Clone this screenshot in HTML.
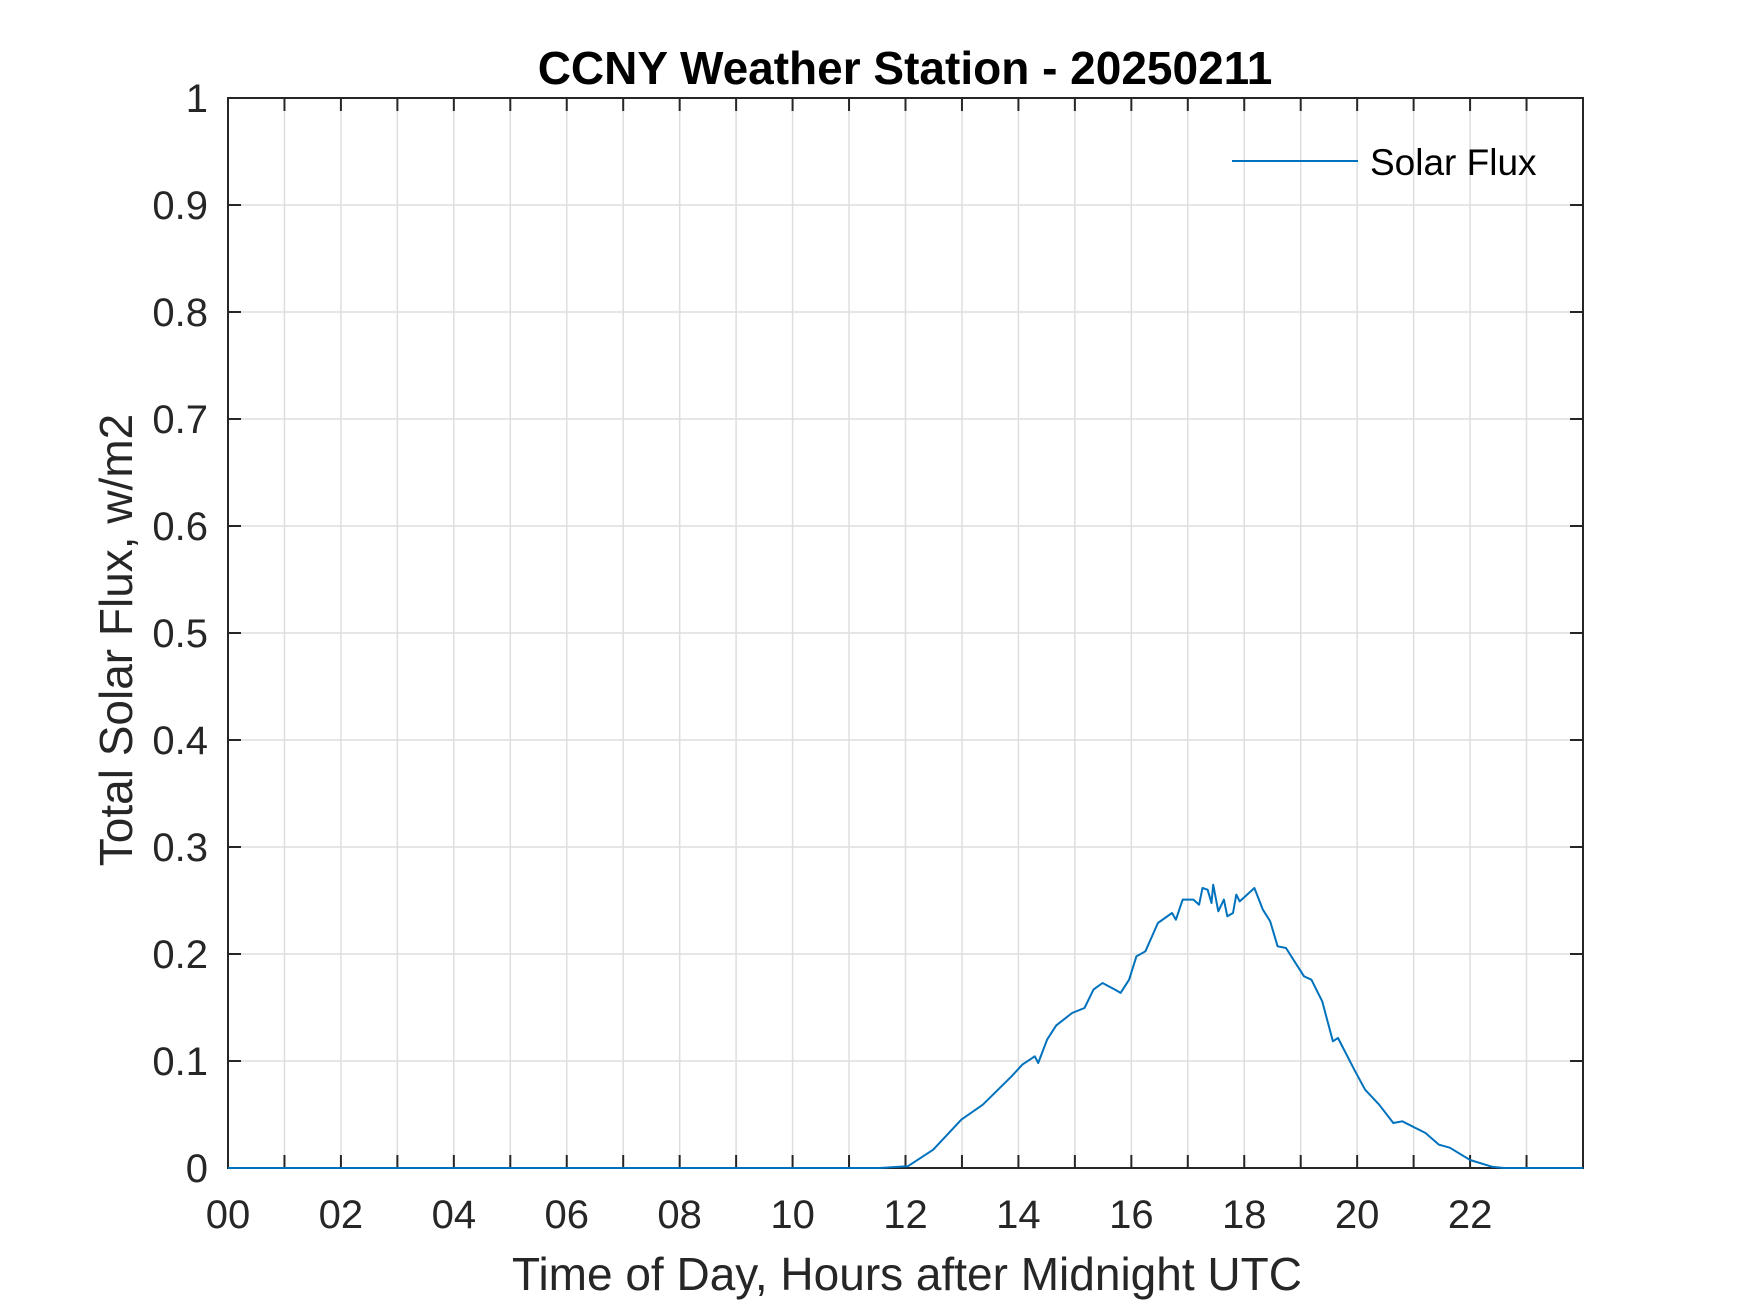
<!DOCTYPE html>
<html><head><meta charset="utf-8"><style>
html,body{margin:0;padding:0;background:#fff;}
svg{display:block;font-family:"Liberation Sans",Arial,sans-serif;}
</style></head><body>
<svg id="chart" width="1750" height="1313" viewBox="0 0 1750 1313" xmlns="http://www.w3.org/2000/svg">
<rect width="1750" height="1313" fill="#fff"/>
<text x="905" y="84" text-anchor="middle" font-size="46" font-weight="bold" fill="#000">CCNY Weather Station - 20250211</text>
<g id="grid"></g><g id="ticks"></g><g id="labels"></g><g id="series"></g>
<text x="907" y="1290" text-anchor="middle" font-size="46" fill="#262626">Time of Day, Hours after Midnight UTC</text>
<text transform="translate(132,640) rotate(-90)" text-anchor="middle" font-size="46" fill="#262626">Total Solar Flux, w/m2</text>
<g>
<line x1="1232" y1="161" x2="1358" y2="161" stroke="#0072BD" stroke-width="2"/>
<text x="1370" y="175" font-size="37" fill="#000">Solar Flux</text>
</g>
</svg>
<script>
const hours = [0,11.54,12.04,12.49,12.99,13.37,13.88,14.07,14.29,14.35,14.51,14.67,14.95,15.17,15.33,15.49,15.71,15.81,15.96,16.09,16.25,16.47,16.72,16.79,16.91,17.10,17.20,17.26,17.35,17.42,17.45,17.54,17.64,17.70,17.80,17.86,17.92,18.18,18.33,18.46,18.59,18.74,18.87,19.06,19.19,19.38,19.57,19.66,19.95,20.14,20.39,20.64,20.80,21.21,21.45,21.64,22.0,22.4,22.6,24];
const flux = [0,0,0.0016,0.0171,0.0452,0.0592,0.0857,0.0966,0.1044,0.0981,0.1202,0.1333,0.1449,0.1495,0.1667,0.1729,0.1667,0.1636,0.1760,0.1978,0.2025,0.2290,0.2383,0.2321,0.2508,0.2508,0.2461,0.2617,0.2601,0.2477,0.2648,0.2399,0.2508,0.2352,0.2383,0.2555,0.2492,0.2617,0.2414,0.2305,0.2072,0.2056,0.1947,0.1791,0.1760,0.1558,0.1184,0.1215,0.0919,0.0732,0.0592,0.0421,0.0436,0.0327,0.0218,0.019,0.0075,0.001,0,0];
const xTickLabels = ["00","02","04","06","08","10","12","14","16","18","20","22"];
const yTickLabels = ["0","0.1","0.2","0.3","0.4","0.5","0.6","0.7","0.8","0.9","1"];

const L=228,R=1583,T=98,B=1168;
const xs=h=>L+(h/24)*(R-L);
const ys=v=>B-(v/1)*(B-T);
const NS="http://www.w3.org/2000/svg";
function mk(tag,attrs,parent){const e=document.createElementNS(NS,tag);for(const k in attrs)e.setAttribute(k,attrs[k]);parent.appendChild(e);return e;}
const grid=document.getElementById('grid'),ticks=document.getElementById('ticks'),labels=document.getElementById('labels'),series=document.getElementById('series');
for(let h=1;h<24;h++){
  const g=mk('line',{x1:xs(h),x2:xs(h),y1:T,y2:B,stroke:'#dedede','stroke-width':1.5},grid);
  
  
  const t1=mk('line',{x1:xs(h),x2:xs(h),y1:B,y2:B-13,stroke:'#262626','stroke-width':2},ticks);
  
  
  const t2=mk('line',{x1:xs(h),x2:xs(h),y1:T,y2:T+13,stroke:'#262626','stroke-width':2},ticks);
  
  
}
yTickLabels.forEach((lab,i)=>{
  const v=i/10,y=ys(v);
  if(i>0&&i<10){
    const g=mk('line',{x1:L,x2:R,y1:y,y2:y,stroke:'#dedede','stroke-width':1.5},grid);
    
    
    const t1=mk('line',{x1:L,x2:L+13,y1:y,y2:y,stroke:'#262626','stroke-width':2},ticks);
    
    
    const t2=mk('line',{x1:R,x2:R-13,y1:y,y2:y,stroke:'#262626','stroke-width':2},ticks);
    
    
  }
  const t=mk('text',{x:208,y:y+14,'text-anchor':'end','font-size':40,fill:'#262626'},labels);
  t.textContent=lab;
  
  
});
xTickLabels.forEach((lab,i)=>{
  const t=mk('text',{x:xs(i*2),y:1228,'text-anchor':'middle','font-size':40,fill:'#262626'},labels);
  t.textContent=lab;
  
  
});
const box=mk('rect',{x:L,y:T,width:R-L,height:B-T,fill:'none',stroke:'#262626','stroke-width':2},ticks);


const d=hours.map((h,i)=>(i?'L':'M')+xs(h).toFixed(1)+' '+ys(flux[i]).toFixed(1)).join(' ');
const p=mk('path',{d:d,fill:'none',stroke:'#0072BD','stroke-width':2,'stroke-linejoin':'round'},series);


</script>
</body></html>
